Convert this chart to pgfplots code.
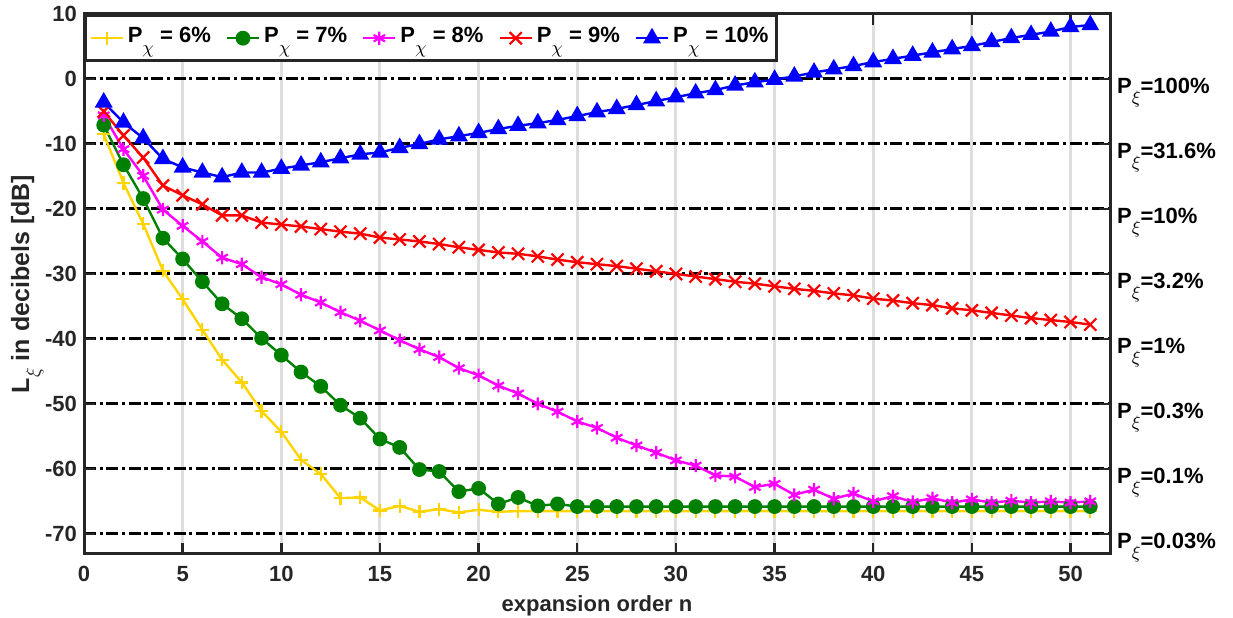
\documentclass[border=0pt]{standalone}
\usepackage{fontspec}
\setmainfont{Liberation Sans}
\usepackage{pgfplots}
\usepackage{pgfplotstable}
\pgfplotsset{compat=1.18}
\definecolor{axgray}{RGB}{38,38,38}
\definecolor{gridgray}{RGB}{222,222,222}
\definecolor{cyel}{RGB}{255,212,0}
\definecolor{cgreen}{RGB}{0,128,0}
\definecolor{cmag}{RGB}{255,0,255}
\definecolor{cred}{RGB}{255,0,0}
\definecolor{cblue}{RGB}{0,0,255}
\newcommand{\lsub}[2]{\raisebox{#2}{\fontsize{9}{10}\selectfont$#1$}}
\newcommand{\bsub}[2]{\raisebox{#2}{\fontsize{10}{11}\selectfont$#1$}}

\pgfplotstableread{
n y
1 -8.5
2 -16.0
3 -22.3
4 -29.5
5 -33.9
6 -38.6
7 -43.2
8 -46.7
9 -51.1
10 -54.3
11 -58.6
12 -60.8
13 -64.5
14 -64.4
15 -66.4
16 -65.7
17 -66.6
18 -66.2
19 -66.7
20 -66.3
21 -66.6
22 -66.5
23 -66.5
24 -66.5
25 -66.5
26 -66.5
27 -66.5
28 -66.5
29 -66.5
30 -66.5
31 -66.5
32 -66.5
33 -66.5
34 -66.5
35 -66.5
36 -66.5
37 -66.5
38 -66.5
39 -66.5
40 -66.5
41 -66.5
42 -66.5
43 -66.5
44 -66.5
45 -66.5
46 -66.5
47 -66.5
48 -66.5
49 -66.5
50 -66.5
51 -66.5
}\tsix

\pgfplotstableread{
n y
1 -7.1
2 -13.2
3 -18.4
4 -24.5
5 -27.7
6 -31.2
7 -34.6
8 -36.9
9 -39.9
10 -42.5
11 -45.1
12 -47.3
13 -50.2
14 -52.2
15 -55.4
16 -56.7
17 -60.1
18 -60.4
19 -63.5
20 -63.0
21 -65.4
22 -64.4
23 -65.7
24 -65.4
25 -65.8
26 -65.8
27 -65.8
28 -65.8
29 -65.8
30 -65.8
31 -65.8
32 -65.8
33 -65.8
34 -65.8
35 -65.8
36 -65.8
37 -65.8
38 -65.8
39 -65.8
40 -65.8
41 -65.8
42 -65.8
43 -65.8
44 -65.8
45 -65.8
46 -65.8
47 -65.8
48 -65.8
49 -65.8
50 -65.8
51 -65.8
}\tseven

\pgfplotstableread{
n y
1 -5.6
2 -10.8
3 -14.9
4 -20.1
5 -22.6
6 -25.0
7 -27.5
8 -28.5
9 -30.5
10 -31.6
11 -33.2
12 -34.4
13 -35.9
14 -37.2
15 -38.7
16 -40.2
17 -41.6
18 -42.8
19 -44.5
20 -45.6
21 -47.2
22 -48.4
23 -50.0
24 -51.2
25 -52.7
26 -53.7
27 -55.2
28 -56.4
29 -57.5
30 -58.7
31 -59.5
32 -61.0
33 -61.2
34 -62.8
35 -62.3
36 -64.0
37 -63.2
38 -64.6
39 -63.8
40 -65.0
41 -64.2
42 -65.1
43 -64.5
44 -65.2
45 -64.7
46 -65.2
47 -64.9
48 -65.2
49 -65.0
50 -65.2
51 -65.0
}\teight

\pgfplotstableread{
n y
1 -5.0
2 -8.7
3 -12.1
4 -16.4
5 -17.9
6 -19.3
7 -21.0
8 -21.0
9 -22.1
10 -22.4
11 -22.7
12 -23.1
13 -23.5
14 -23.8
15 -24.4
16 -24.7
17 -25.0
18 -25.4
19 -25.9
20 -26.3
21 -26.7
22 -26.9
23 -27.3
24 -27.8
25 -28.2
26 -28.5
27 -28.8
28 -29.2
29 -29.6
30 -30.0
31 -30.4
32 -30.8
33 -31.2
34 -31.5
35 -31.9
36 -32.3
37 -32.6
38 -33.0
39 -33.3
40 -33.8
41 -34.1
42 -34.5
43 -34.8
44 -35.3
45 -35.6
46 -36.0
47 -36.4
48 -36.8
49 -37.1
50 -37.4
51 -37.8
}\tnine

\pgfplotstableread{
n y
1 -3.6
2 -6.7
3 -9.1
4 -12.3
5 -13.6
6 -14.4
7 -15.1
8 -14.4
9 -14.4
10 -13.8
11 -13.3
12 -12.8
13 -12.2
14 -11.6
15 -11.3
16 -10.6
17 -10.0
18 -9.3
19 -8.8
20 -8.3
21 -7.7
22 -7.2
23 -6.8
24 -6.3
25 -5.7
26 -5.1
27 -4.6
28 -4.0
29 -3.4
30 -2.8
31 -2.2
32 -1.7
33 -1.0
34 -0.5
35 -0.1
36 0.4
37 1.0
38 1.5
39 2.0
40 2.6
41 3.1
42 3.6
43 4.1
44 4.6
45 5.1
46 5.7
47 6.3
48 6.8
49 7.3
50 8.0
51 8.3
}\tten

\begin{document}
\begin{tikzpicture}
\begin{axis}[
  name=main,
  scale only axis,
  width=513pt, height=270pt,
  xmin=0, xmax=52, ymin=-73.1, ymax=10,
  xtick={0,5,...,50},
  ytick={10,0,-10,-20,-30,-40,-50,-60,-70},
  /pgf/number format/assume math mode=true,
  tick label style={font=\fontsize{11}{13}\selectfont\bfseries, text=axgray},
  xticklabel style={yshift=-2.5pt},
  xlabel style={font=\fontsize{11}{13}\selectfont\bfseries, text=axgray},
  xlabel={expansion order n},
  ylabel={L\bsub{\xi}{-5.2pt} in decibels [dB]},
  ylabel style={font=\fontsize{12.5}{14}\selectfont\bfseries, text=axgray, yshift=-6pt},
  axis line style={draw=axgray, line width=1.5pt},
  major tick length=5.5pt,
  tick style={draw=axgray, line width=1.2pt},
  tick align=inside,
  xmajorgrids, ymajorgrids,
  x grid style={draw=gridgray, line width=1.5pt},
  y grid style={draw=black, line width=1.5pt, dash pattern=on 6pt off 1.8pt on 1.6pt off 1.8pt},
  legend columns=5,
  legend style={at={(0,1)}, anchor=north west, draw=axgray, line width=1.5pt, fill=white,
    font=\fontsize{11}{13}\selectfont\bfseries, inner xsep=2pt, inner ysep=0.5pt,
    nodes={text height=10.8pt, text depth=6.9pt},
    /tikz/every even column/.append style={column sep=5.5pt}},
  legend image code/.code={\draw[mark repeat=2,mark phase=2] plot coordinates {(0cm,0cm) (0.28cm,0cm) (0.56cm,0cm)};},
  every axis plot/.append style={line width=1.2pt},
]
\addplot[color=cyel, mark=+, mark size=3.3pt, mark options={line width=1.1pt}] table[x=n,y=y] {\tsix};
\addlegendentry{P\lsub{\chi}{-5.7pt} = 6\%}
\addplot[color=cgreen, mark=*, mark size=3.1pt, mark options={fill=cgreen}] table[x=n,y=y] {\tseven};
\addlegendentry{P\lsub{\chi}{-5.7pt} = 7\%}
\addplot[color=cmag, mark=asterisk, mark size=3.3pt, mark options={line width=1.1pt}] table[x=n,y=y] {\teight};
\addlegendentry{P\lsub{\chi}{-5.7pt} = 8\%}
\addplot[color=cred, mark=x, mark size=4.3pt, mark options={line width=1.1pt}] table[x=n,y=y] {\tnine};
\addlegendentry{P\lsub{\chi}{-5.7pt} = 9\%}
\addplot[color=cblue, mark=triangle*, mark size=4pt, mark options={fill=cblue}] table[x=n,y=y] {\tten};
\addlegendentry{P\lsub{\chi}{-5.7pt} = 10\%}
\end{axis}
\begin{axis}[
  scale only axis,
  width=513pt, height=270pt,
  xmin=0, xmax=52, ymin=-73.1, ymax=10,
  axis x line=none,
  axis y line*=right,
  y axis line style={draw=axgray, line width=1.5pt},
  ytick={0,-10,-20,-30,-40,-50,-60,-70},
  yticklabels={P\lsub{\xi}{-4.9pt}=100\%, P\lsub{\xi}{-4.9pt}=31.6\%, P\lsub{\xi}{-4.9pt}=10\%, P\lsub{\xi}{-4.9pt}=3.2\%, P\lsub{\xi}{-4.9pt}=1\%, P\lsub{\xi}{-4.9pt}=0.3\%, P\lsub{\xi}{-4.9pt}=0.1\%, P\lsub{\xi}{-4.9pt}=0.03\%},
  ytick style={draw=none},
  yticklabel style={font=\fontsize{11}{13}\selectfont\bfseries, text=black, anchor=base west, yshift=-7.5pt},
]
\end{axis}
\pgfresetboundingbox
\path[use as bounding box] ([xshift=-42pt,yshift=-32pt]main.south west) rectangle ([xshift=61.5pt,yshift=7pt]main.north east);
\end{tikzpicture}
\end{document}
